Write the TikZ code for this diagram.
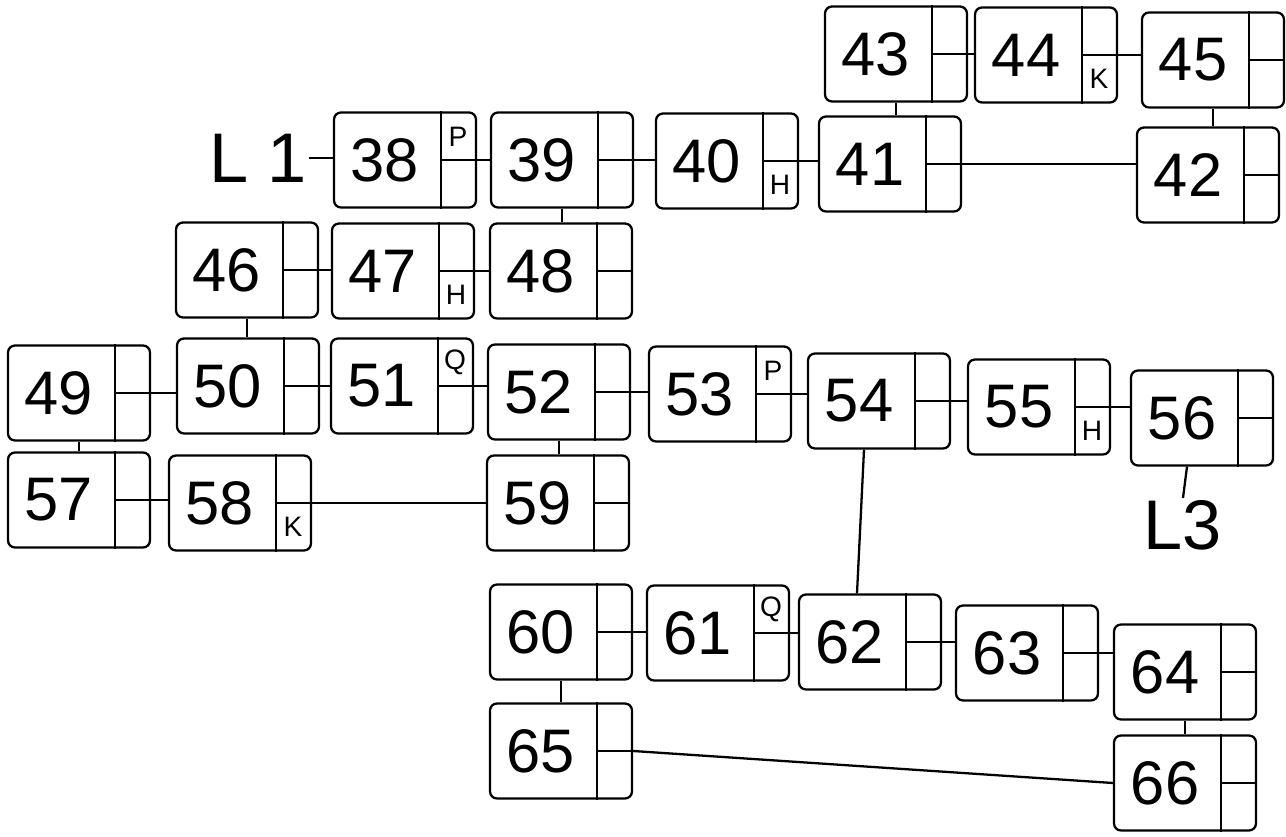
\documentclass[tikz,border=0pt]{standalone}
\usepackage{fontspec}
\setmainfont{Liberation Sans}
\usetikzlibrary{calc}
\tikzset{
  cellbox/.style={draw, rounded corners=4pt, line width=1.3pt, minimum width=2.84cm, minimum height=1.9cm, inner sep=0pt},
  numtext/.style={font=\fontsize{35}{35}\selectfont, inner sep=0pt},
  tagtext/.style={font=\fontsize{16}{16}\selectfont, inner sep=0pt},
  listname/.style={font=\fontsize{40}{40}\selectfont, inner sep=1pt},
  link/.style={line width=1.3pt}
}
% one list cell: name, x, y, number, upper tag, lower tag
\newcommand{\listcell}[6]{%
  \node[cellbox] (#1) at (#2,#3) {};
  \node[numtext] at ([xshift=-0.4cm]#1.center) {#4};
  \draw[link] ([xshift=-0.72cm]#1.north east) -- ([xshift=-0.72cm]#1.south east);
  \draw[link] ([xshift=-0.72cm]#1.east) -- (#1.east);
  \node[tagtext] at ([xshift=1.06cm,yshift=0.47cm]#1.center) {#5};
  \node[tagtext] at ([xshift=1.06cm,yshift=-0.47cm]#1.center) {#6};
}
\begin{document}
\begin{tikzpicture}[x=0.02cm,y=-0.02cm]
\useasboundingbox (0,0) rectangle (1286,837);
\fill[white] (0,0) rectangle (1286,837);

% top row
\listcell{n43}{896}{54}{43}{}{}
\listcell{n44}{1046}{55}{44}{}{K}
\listcell{n45}{1213}{60}{45}{}{}

% list L1
\node[listname] (l1) at (258,158) {L 1};
\listcell{n38}{405}{160}{38}{P}{}
\listcell{n39}{562}{160}{39}{}{}
\listcell{n40}{727}{161}{40}{}{H}
\listcell{n41}{890}{164}{41}{}{}
\listcell{n42}{1208}{175}{42}{}{}

\listcell{n46}{247}{270}{46}{}{}
\listcell{n47}{403}{271}{47}{}{H}
\listcell{n48}{561}{271}{48}{}{}

\listcell{n49}{79}{393}{49}{}{}
\listcell{n50}{248}{386}{50}{}{}
\listcell{n51}{402}{386}{51}{Q}{}
\listcell{n52}{559}{392}{52}{}{}
\listcell{n53}{720}{394}{53}{P}{}
\listcell{n54}{879}{401}{54}{}{}
\listcell{n55}{1039}{407}{55}{}{H}
\listcell{n56}{1202}{418}{56}{}{}
\node[listname] (l3) at (1183,525) {L3};

\listcell{n57}{79}{500}{57}{}{}
\listcell{n58}{240}{503}{58}{}{K}
\listcell{n59}{558}{503}{59}{}{}

\listcell{n60}{561}{632}{60}{}{}
\listcell{n61}{718}{633}{61}{Q}{}
\listcell{n62}{870}{642}{62}{}{}
\listcell{n63}{1027}{653}{63}{}{}
\listcell{n64}{1185}{672}{64}{}{}

\listcell{n65}{561}{751}{65}{}{}
\listcell{n66}{1185}{783}{66}{}{}

% horizontal links
\draw[link] (l1.east) -- (l1.east -| n38.west);
\foreach \a/\b in {38/39,39/40,40/41,41/42,43/44,44/45,46/47,47/48,
                   49/50,50/51,51/52,52/53,53/54,54/55,55/56,
                   57/58,58/59,60/61,61/62,62/63,63/64}
  \draw[link] (n\a.east) -- (n\a.east -| n\b.west);
\draw[link] (n65.east) -- (n66.west);

% vertical links
\foreach \a/\b in {43/41,45/42,39/48,46/50,49/57,52/59,60/65,64/66}
  \draw[link] (n\a.south) -- (n\a.south |- n\b.north);
\draw[link] ([xshift=-0.3cm]n54.south) -- ([xshift=-0.26cm]n62.north);
\draw[link] ([xshift=-0.3cm]n56.south) -- (l3.north);
\end{tikzpicture}
\end{document}
